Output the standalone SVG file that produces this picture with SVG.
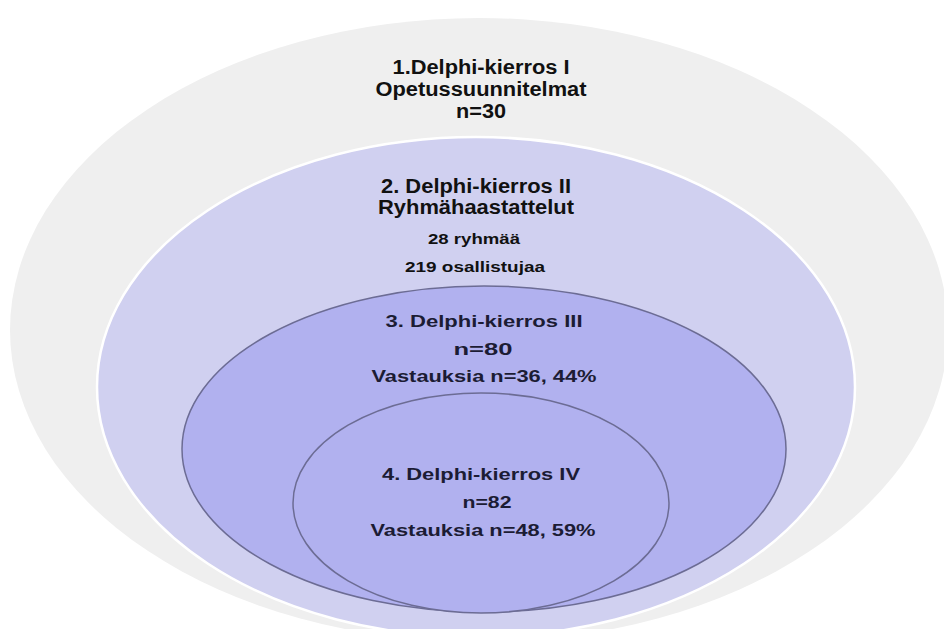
<svg xmlns="http://www.w3.org/2000/svg" width="944" height="629" viewBox="0 0 944 629">
<style>
.t{font-family:"Liberation Sans",Arial,sans-serif;font-weight:bold;text-anchor:middle;fill:#111}
.d{font-family:"Liberation Sans",Arial,sans-serif;font-weight:bold;text-anchor:middle;fill:#1c1c34}
.inner{fill:#b1b1ef;stroke:#6c6c94;stroke-width:1.5}
</style>
<rect width="944" height="629" fill="#ffffff"/>
<g id="round1">
<ellipse cx="479" cy="330" rx="469" ry="312" fill="#efefef"/>
<text class="t" x="481" y="74" font-size="20" textLength="177" lengthAdjust="spacingAndGlyphs">1.Delphi-kierros I</text>
<text class="t" x="481" y="96" font-size="20" textLength="211" lengthAdjust="spacingAndGlyphs">Opetussuunnitelmat</text>
<text class="t" x="481" y="118" font-size="20" textLength="50" lengthAdjust="spacingAndGlyphs">n=30</text>
</g>
<g id="round2">
<ellipse cx="476" cy="387" rx="379" ry="250" fill="#d0d0f0" stroke="#ffffff" stroke-width="2.5"/>
<text class="t" x="476" y="193" font-size="20" textLength="190" lengthAdjust="spacingAndGlyphs">2. Delphi-kierros II</text>
<text class="t" x="476" y="214" font-size="20" textLength="196" lengthAdjust="spacingAndGlyphs">Ryhmähaastattelut</text>
<text class="t" x="474" y="244" font-size="15" textLength="92" lengthAdjust="spacingAndGlyphs">28 ryhmää</text>
<text class="t" x="475" y="272" font-size="15" textLength="140" lengthAdjust="spacingAndGlyphs">219 osallistujaa</text>
</g>
<g id="round3">
<ellipse class="inner" cx="484" cy="449" rx="302" ry="163"/>
<text class="d" x="484" y="327" font-size="16" textLength="197" lengthAdjust="spacingAndGlyphs">3. Delphi-kierros III</text>
<text class="d" x="483" y="355" font-size="16" textLength="59" lengthAdjust="spacingAndGlyphs">n=80</text>
<text class="d" x="484" y="382" font-size="16" textLength="225" lengthAdjust="spacingAndGlyphs">Vastauksia n=36, 44%</text>
</g>
<g id="round4">
<ellipse class="inner" cx="481" cy="503" rx="188" ry="110"/>
<text class="d" x="481" y="480" font-size="16" textLength="198" lengthAdjust="spacingAndGlyphs">4. Delphi-kierros IV</text>
<text class="d" x="487" y="508" font-size="16" textLength="49" lengthAdjust="spacingAndGlyphs">n=82</text>
<text class="d" x="483" y="536" font-size="16" textLength="225" lengthAdjust="spacingAndGlyphs">Vastauksia n=48, 59%</text>
</g>
<g id="connectors"></g>
</svg>
